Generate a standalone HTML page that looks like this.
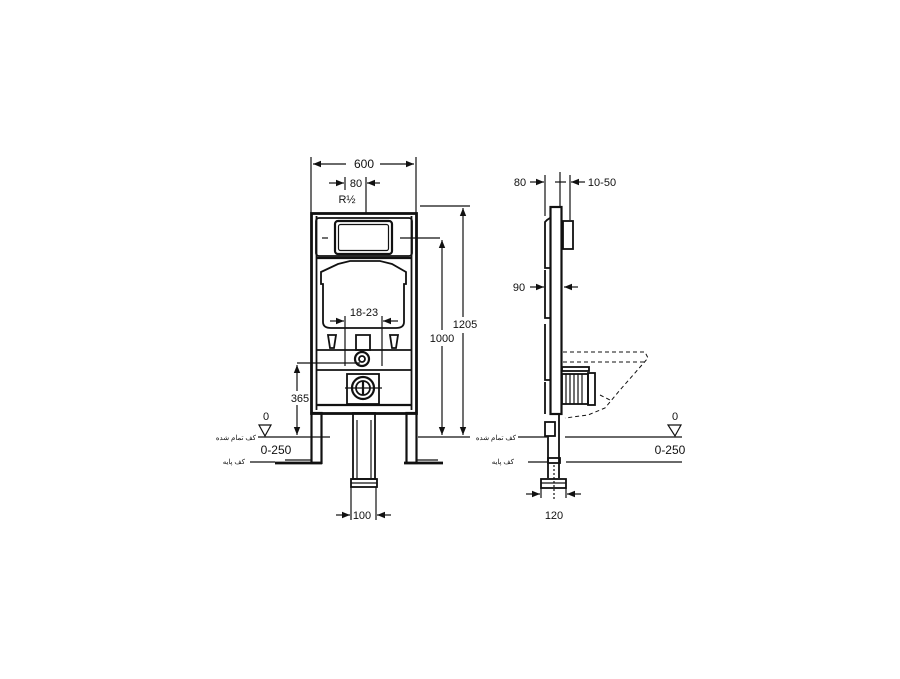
<!DOCTYPE html>
<html><head><meta charset="utf-8"><style>
html,body{margin:0;padding:0;background:#fff;}
svg{display:block;}
text{font-family:"Liberation Sans",sans-serif;fill:#111;}
.ar{font-family:"Liberation Sans","Noto Sans CJK SC",sans-serif;font-size:7px;}
</style></head><body>
<svg width="900" height="679" viewBox="0 0 900 679" xmlns="http://www.w3.org/2000/svg">
<defs>
<marker id="a" viewBox="0 0 10 10" refX="10" refY="5" markerWidth="8" markerHeight="8" markerUnits="userSpaceOnUse" orient="auto-start-reverse"><path d="M0,1 L10,5 L0,9 z" fill="#111"/></marker>
</defs>
<g stroke="#111" fill="none" stroke-width="1.2">
<!-- FRONT VIEW -->
<line x1="311" y1="157" x2="311" y2="213"/><line x1="416" y1="157" x2="416" y2="213"/>
<line x1="313" y1="164" x2="346" y2="164" marker-start="url(#a)"/><line x1="380" y1="164" x2="414" y2="164" marker-end="url(#a)"/>
<line x1="345" y1="177" x2="345" y2="190"/><line x1="366" y1="177" x2="366" y2="213"/>
<line x1="329" y1="183" x2="344" y2="183" marker-end="url(#a)"/><line x1="380" y1="183" x2="367" y2="183" marker-end="url(#a)"/>
<rect x="311.5" y="213.5" width="105" height="200" stroke-width="2.8"/>
<line x1="316.5" y1="216" x2="316.5" y2="410" stroke-width="1.8"/>
<line x1="411.5" y1="216" x2="411.5" y2="410" stroke-width="1.8"/>
<rect x="316" y="218" width="96" height="38" rx="3" stroke-width="1.8"/>
<rect x="335" y="221" width="57" height="33" rx="3" stroke-width="2.2"/>
<rect x="338.5" y="224.5" width="50" height="26" rx="2" stroke-width="1.2"/>
<line x1="322" y1="238" x2="328" y2="238"/><line x1="400" y1="238" x2="440" y2="238"/>
<path d="M323,322 L323,284 L321,284 L321,272 L338,264 L350,261 L380,261 L392,264 L406,272 L406,284 L404,284 L404,322 Q404,328 396,328 L331,328 Q323,328 323,322z" stroke-width="1.8"/>
<line x1="316" y1="258" x2="412" y2="258" stroke-width="2.2"/>
<line x1="316" y1="350" x2="412" y2="350" stroke-width="1.8"/>
<line x1="316" y1="370" x2="412" y2="370" stroke-width="1.8"/>
<line x1="316" y1="405" x2="412" y2="405" stroke-width="2.2"/>
<path d="M328,335 L336,335 L334,348 L330,348z" stroke-width="1.8"/>
<path d="M390,335 L398,335 L396,348 L392,348z" stroke-width="1.8"/>
<path d="M356,335 L370,335 L370,350 L356,350z" stroke-width="1.8"/>
<circle cx="362" cy="359" r="7" stroke-width="2.2"/><circle cx="362" cy="359" r="3" stroke-width="1.8"/>
<rect x="347" y="374" width="32" height="30" stroke-width="1.8"/>
<circle cx="363" cy="388" r="11" stroke-width="2.2"/><circle cx="363" cy="388" r="7" stroke-width="1.8"/>
<line x1="345" y1="388" x2="382" y2="388"/><line x1="363" y1="381" x2="363" y2="395" stroke-width="2.2"/>
<line x1="345" y1="316" x2="345" y2="366"/><line x1="382" y1="316" x2="382" y2="366"/>
<line x1="330" y1="321" x2="344" y2="321" marker-end="url(#a)"/><line x1="398" y1="321" x2="383" y2="321" marker-end="url(#a)"/>
<rect x="311.5" y="413" width="10" height="50" stroke-width="2.2"/>
<rect x="406.5" y="413" width="10" height="50" stroke-width="2.2"/>
<line x1="275" y1="463" x2="322" y2="463" stroke-width="2.8"/>
<line x1="404" y1="463" x2="443" y2="463" stroke-width="2.8"/>
<line x1="285" y1="460" x2="311" y2="460"/><line x1="416" y1="460" x2="438" y2="460"/>
<rect x="353" y="413" width="22" height="66" stroke-width="1.8"/>
<line x1="357" y1="420" x2="357" y2="478"/><line x1="371" y1="420" x2="371" y2="478"/>
<rect x="351" y="479" width="26" height="8" stroke-width="1.8"/>
<line x1="351" y1="483" x2="377" y2="483"/>
<line x1="351" y1="487" x2="351" y2="520"/><line x1="376" y1="487" x2="376" y2="520"/>
<line x1="336" y1="515" x2="350" y2="515" marker-end="url(#a)"/><line x1="391" y1="515" x2="377" y2="515" marker-end="url(#a)"/>
<line x1="420" y1="206" x2="470" y2="206"/>
<line x1="463" y1="208" x2="463" y2="317" marker-start="url(#a)"/><line x1="463" y1="333" x2="463" y2="435" marker-end="url(#a)"/>
<line x1="442" y1="240" x2="442" y2="330" marker-start="url(#a)"/><line x1="442" y1="346" x2="442" y2="435" marker-end="url(#a)"/>
<line x1="297" y1="363" x2="360" y2="363"/>
<line x1="297" y1="365" x2="297" y2="391" marker-start="url(#a)"/><line x1="297" y1="405" x2="297" y2="435" marker-end="url(#a)"/>
<line x1="258" y1="437" x2="330" y2="437"/><line x1="418" y1="437" x2="470" y2="437"/>
<line x1="250" y1="462" x2="275" y2="462"/>
<path d="M259,425 L271,425 L265,436z"/>
<!-- SIDE VIEW -->
<line x1="545" y1="175" x2="545" y2="216"/><line x1="560" y1="172" x2="560" y2="207"/><line x1="570" y1="175" x2="570" y2="220"/>
<line x1="555" y1="182" x2="566" y2="182"/>
<line x1="530" y1="182" x2="544" y2="182" marker-end="url(#a)"/>
<line x1="585" y1="182" x2="571" y2="182" marker-end="url(#a)"/>
<rect x="550.5" y="207" width="11" height="207" stroke-width="2.2"/>
<rect x="563" y="221" width="10" height="28" stroke-width="1.8"/>
<path d="M550,218 L547,220 L545,222 L545,268 L550,268 M545,270 L545,318 L550,318 M545,324 L545,380 L550,380 M545,382 L545,414" stroke-width="1.8"/>
<line x1="530" y1="287" x2="544" y2="287" marker-end="url(#a)"/>
<line x1="578" y1="287" x2="564" y2="287" marker-end="url(#a)"/>
<path d="M563,352 L645,352 L648,358 L620,390 L605,408 L588,415 L565,418" stroke-dasharray="4,3" stroke-width="1"/>
<path d="M563,362 L645,362 M600,395 L610,400" stroke-dasharray="4,3" stroke-width="1"/>
<rect x="562" y="367" width="27" height="4" stroke-width="1.8"/>
<rect x="562" y="374" width="26" height="30" stroke-width="1.8"/>
<rect x="588" y="373" width="7" height="32" stroke-width="1.8"/>
<path d="M566,374 V404 M570,374 V404 M574,374 V404 M578,374 V404 M582,374 V404"/>
<rect x="545" y="422" width="10" height="14" stroke-width="1.8"/>
<line x1="548" y1="436" x2="548" y2="478" stroke-width="1.8"/><line x1="559" y1="414" x2="559" y2="478" stroke-width="1.8"/>
<rect x="548" y="458" width="12" height="5" stroke-width="1.8"/>
<line x1="554" y1="465" x2="554" y2="500" stroke-dasharray="2,2"/>
<rect x="541" y="479" width="25" height="9" stroke-width="1.8"/>
<line x1="541" y1="483" x2="566" y2="483"/>
<line x1="541" y1="488" x2="541" y2="498"/><line x1="566" y1="488" x2="566" y2="498"/>
<line x1="526" y1="494" x2="540" y2="494" marker-end="url(#a)"/><line x1="581" y1="494" x2="567" y2="494" marker-end="url(#a)"/>
<line x1="518" y1="437" x2="547" y2="437"/><line x1="565" y1="437" x2="682" y2="437"/>
<line x1="528" y1="462" x2="547" y2="462"/><line x1="566" y1="462" x2="682" y2="462"/>
<path d="M668,425 L681,425 L675,436z"/>
</g>
<g font-size="11">
<text x="364" y="168" text-anchor="middle" font-size="12">600</text>
<text x="356" y="187" text-anchor="middle">80</text>
<text x="347" y="203" text-anchor="middle">R½</text>
<text x="364" y="316" text-anchor="middle">18-23</text>
<text x="465" y="328" text-anchor="middle">1205</text>
<text x="442" y="342" text-anchor="middle">1000</text>
<text x="300" y="402" text-anchor="middle">365</text>
<text x="266" y="420" text-anchor="middle">0</text>
<text x="276" y="454" text-anchor="middle" font-size="12">0-250</text>
<text x="362" y="519" text-anchor="middle">100</text>
<text x="520" y="186" text-anchor="middle">80</text>
<text x="602" y="186" text-anchor="middle">10-50</text>
<text x="519" y="291" text-anchor="middle">90</text>
<text x="675" y="420" text-anchor="middle">0</text>
<text x="670" y="454" text-anchor="middle" font-size="12">0-250</text>
<text x="554" y="519" text-anchor="middle">120</text>
</g>
<text class="ar" x="256" y="440" text-anchor="end">کف تمام شده</text>
<text class="ar" x="245" y="464" text-anchor="end">کف پایه</text>
<text class="ar" x="516" y="440" text-anchor="end">کف تمام شده</text>
<text class="ar" x="514" y="464" text-anchor="end">کف پایه</text>
</svg>
</body></html>
